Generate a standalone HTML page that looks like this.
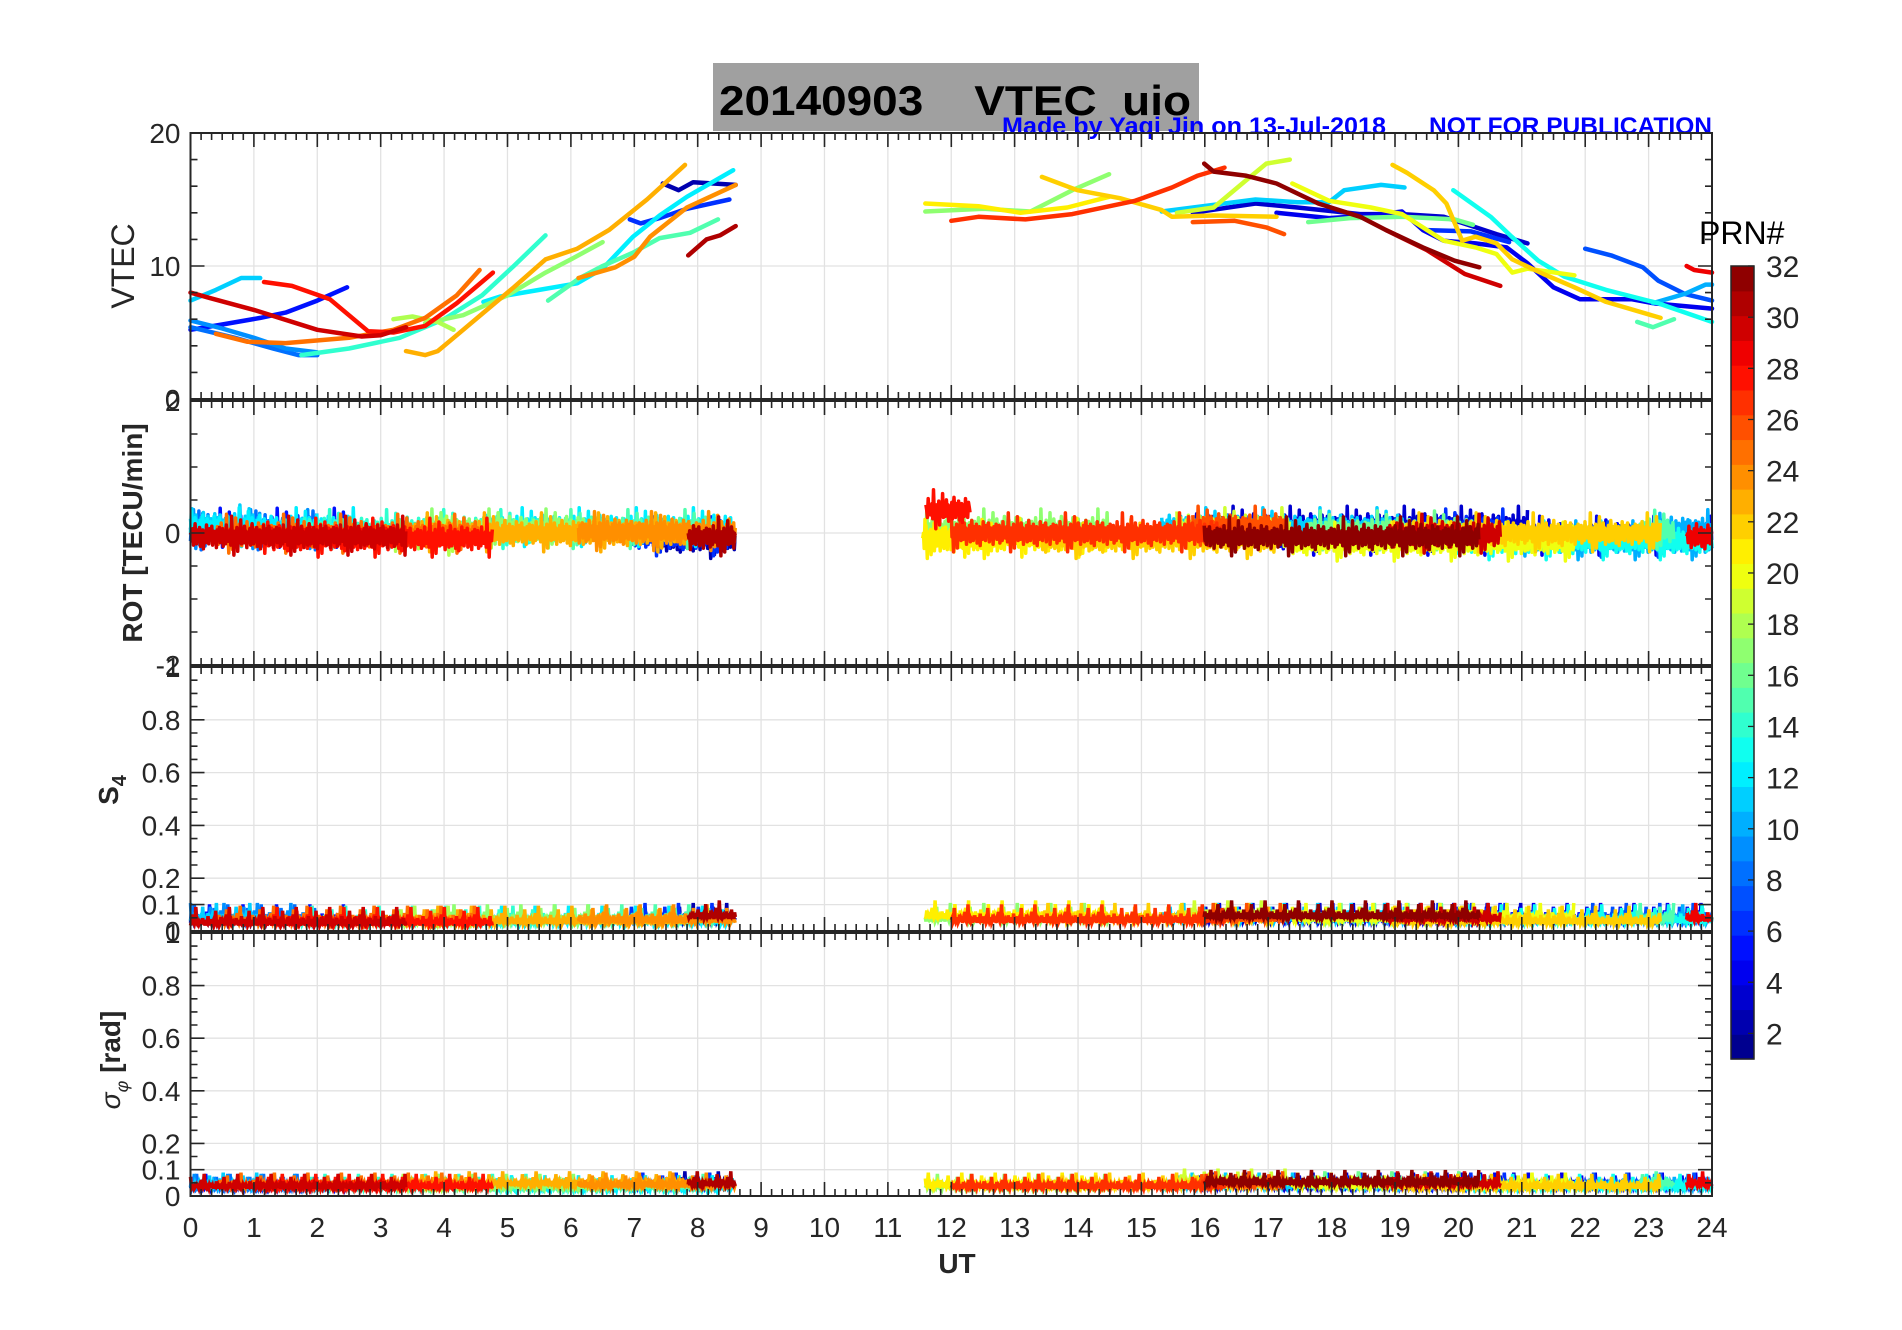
<!DOCTYPE html>
<html><head><meta charset="utf-8"><style>
html,body{margin:0;padding:0;background:#fff;}
svg{display:block;}
text{font-family:"Liberation Sans",Arial,sans-serif;}
</style></head><body>
<svg id="fig" width="1902" height="1330" viewBox="0 0 1902 1330" xmlns="http://www.w3.org/2000/svg">
<rect x="0" y="0" width="1902" height="1330" fill="#fff"/>
<rect x="713" y="63" width="486" height="68" fill="#a0a0a0"/>
<text x="719" y="115" font-size="42" font-weight="bold" fill="#000" textLength="472" lengthAdjust="spacingAndGlyphs" xml:space="preserve">20140903    VTEC  uio</text>
<text x="1002" y="134" font-size="24" font-weight="bold" fill="#0000ff" textLength="384" lengthAdjust="spacingAndGlyphs">Made by Yaqi Jin on 13-Jul-2018</text>
<text x="1429" y="134" font-size="24" font-weight="bold" fill="#0000ff" textLength="283" lengthAdjust="spacingAndGlyphs">NOT FOR PUBLICATION</text>
<g id="grids"></g>
<g id="series"></g>
<g id="axes"></g>
<text transform="translate(134,266) rotate(-90)" text-anchor="middle" font-size="32" fill="#262626">VTEC</text>
<text transform="translate(142,533) rotate(-90)" text-anchor="middle" font-size="28" font-weight="bold" fill="#262626">ROT [TECU/min]</text>
<text transform="translate(118,790) rotate(-90)" text-anchor="middle" font-size="28" font-weight="bold" fill="#262626">S<tspan font-size="20" dy="8">4</tspan></text>
<text transform="translate(120,1060) rotate(-90)" text-anchor="middle" font-size="28" font-weight="bold" fill="#262626"><tspan font-style="italic" font-weight="normal">σ</tspan><tspan font-size="18" font-style="italic" font-weight="normal" dy="8">φ</tspan><tspan dy="-8"> [rad]</tspan></text>
<text x="957" y="1273" text-anchor="middle" font-size="28" font-weight="bold" fill="#262626">UT</text>
<g id="cbar"></g>
<text x="1699" y="244" font-size="32" fill="#000">PRN#</text>
</svg>
<script>
const NS="http://www.w3.org/2000/svg";
const L=190.5,R=1712;
const panels=[[133,399],[401,665],[667,931],[933,1196]];
const hourTicks=[0,1,2,3,4,5,6,7,8,9,10,11,12,13,14,15,16,17,18,19,20,21,22,23,24];
const vtecTicks=[0,10,20];
const rotTicks=[-2,0,2];
const s4Ticks=[0,0.1,0.2,0.4,0.6,0.8,1];
const s4TickLabels=["0","0.1","0.2","0.4","0.6","0.8","1"];
const prnLabels=[2,4,6,8,10,12,14,16,18,20,22,24,26,28,30,32];
const arcs=[
{p:11,v:[[0,7.4],[0.4,8.2],[0.8,9.1],[1.1,9.1]],r:0.12,s:0.05,g:0.045},
{p:30,v:[[0,8],[0.3,7.6],[1,6.7],[2,5.2],[2.7,4.7],[3,4.8],[3.4,5.4]],r:-0.05,s:0.035,g:0.04},
{p:5,v:[[0,5.2],[0.5,5.6],[1.1,6.1],[1.5,6.5],[2,7.4],[2.47,8.4]],r:0.07,s:0.045,g:0.04},
{p:28,v:[[1.16,8.8],[1.6,8.5],[2.2,7.5],[2.8,5.1],[3.2,5.0],[3.7,5.5],[4.2,7.2],[4.77,9.5]],r:-0.08,s:0.035,g:0.04},
{p:25,v:[[0.4,4.9],[0.9,4.3],[1.5,4.2],[2.5,4.6],[3.2,5.2],[3.7,6.1],[4.2,7.8],[4.56,9.7]],r:-0.02,s:0.04,g:0.045},
{p:9,v:[[0,5.9],[0.5,5.3],[1,4.6],[1.5,3.8],[2,3.5]],r:0.05,s:0.05,g:0.04},
{p:8,v:[[0,5.4],[0.7,4.6],[1.3,3.8],[1.7,3.3],[2,3.3]],r:0.03,s:0.045,g:0.04},
{p:14,v:[[1.75,3.3],[2.5,3.8],[3.3,4.6],[4,6],[4.6,7.8],[5.1,10],[5.6,12.3]],r:0.05,s:0.04,g:0.04},
{p:18,v:[[3.2,6.0],[3.5,6.2],[3.9,5.8],[4.15,5.2]],r:-0.05,s:0.04,g:0.04},
{p:17,v:[[3.7,5.7],[4.3,6.3],[5,7.8],[5.6,9.5],[6.0,10.5],[6.5,11.8]],r:0.06,s:0.045,g:0.04},
{p:23,v:[[3.4,3.6],[3.7,3.3],[3.9,3.6],[4.2,4.8],[4.6,6.4],[5.1,8.4],[5.6,10.5],[6.1,11.3],[6.6,12.7],[7.2,15],[7.8,17.6]],r:0.0,s:0.04,g:0.05},
{p:24,v:[[6.12,9.1],[6.7,9.9],[7.0,10.7],[7.25,12.2],[7.83,14.4],[8.6,16.1]],r:0.02,s:0.045,g:0.045},
{p:12,v:[[4.62,7.3],[4.88,7.7],[5.5,8.2],[6.1,8.7],[6.5,9.8],[6.98,12.2],[7.4,13.8],[7.83,15.2],[8.56,17.2]],r:0.08,s:0.04,g:0.035},
{p:15,v:[[5.64,7.4],[6.14,9.1],[6.5,10.0],[6.98,11.0],[7.4,12.1],[7.88,12.5],[8.32,13.5]],r:0.05,s:0.045,g:0.04},
{p:6,v:[[6.93,13.5],[7.1,13.2],[7.4,13.6],[7.83,14.3],[8.5,15.0]],r:-0.06,s:0.05,g:0.045},
{p:2,v:[[7.45,16.2],[7.7,15.7],[7.93,16.3],[8.25,16.2],[8.6,16.1]],r:-0.1,s:0.05,g:0.05},
{p:31,v:[[7.85,10.8],[8.14,12.0],[8.35,12.3],[8.6,13.0]],r:-0.06,s:0.06,g:0.05},
{p:21,v:[[11.59,14.7],[12.43,14.5],[13.09,14.0],[13.83,14.4],[14.49,15.2]],r:-0.08,s:0.06,g:0.045},
{p:17,v:[[11.59,14.1],[12.51,14.3],[13.25,14.1],[13.91,15.7],[14.49,16.9]],r:0.06,s:0.05,g:0.04},
{p:27,v:[[12.0,13.4],[12.43,13.7],[13.17,13.5],[13.91,13.9],[14.9,14.9],[15.48,15.9],[15.89,16.8],[16.31,17.4]],r:0.0,s:0.045,g:0.04},
{p:22,v:[[13.43,16.7],[13.99,15.7],[14.66,15.1],[15.32,14.2],[15.48,13.7],[16.14,13.8],[17.13,13.7]],r:-0.1,s:0.05,g:0.045},
{p:26,v:[[15.81,13.3],[16.47,13.4],[16.97,12.9],[17.25,12.4]],r:0.1,s:0.05,g:0.05},
{p:19,v:[[15.56,14.0],[16.14,14.4],[16.64,16.4],[16.97,17.7],[17.34,18.0]],r:0.08,s:0.06,g:0.06},
{p:32,v:[[15.99,17.7],[16.14,17.1],[16.64,16.8],[17.13,16.2],[17.79,14.7],[18.45,13.7],[18.86,12.7],[19.44,11.4],[19.94,10.4],[20.33,9.9]],r:-0.06,s:0.06,g:0.055},
{p:30,v:[[18.86,12.7],[19.5,11.2],[20.1,9.4],[20.66,8.5]],r:-0.02,s:0.05,g:0.05},
{p:11,v:[[15.32,14.1],[16.14,14.6],[16.8,15.0],[17.46,14.8],[17.96,14.8],[18.2,15.7],[18.78,16.1],[19.15,15.9]],r:0.08,s:0.05,g:0.045},
{p:3,v:[[15.81,14.0],[16.8,14.7],[17.46,14.4],[18.45,13.9],[19.11,13.9],[19.77,13.7],[20.6,12.4],[21.09,11.7]],r:0.1,s:0.05,g:0.045},
{p:4,v:[[17.13,14.0],[17.96,13.6],[18.62,13.8],[19.11,14.1],[19.44,12.7],[19.77,11.9],[20.27,11.7],[20.76,11.4],[21.09,10.2],[21.5,8.4],[21.92,7.5],[22.74,7.5],[23.07,7.2],[24,6.8]],r:-0.05,s:0.05,g:0.045},
{p:16,v:[[17.63,13.3],[18.29,13.6],[19.11,13.7],[19.94,13.5],[20.23,13.1]],r:0.03,s:0.05,g:0.05},
{p:20,v:[[17.38,16.2],[17.96,14.9],[18.62,14.4],[19.11,13.9],[19.44,12.9],[19.77,11.9],[20.27,11.4],[20.6,10.9],[20.85,9.5],[21.09,9.8],[21.83,9.3]],r:-0.14,s:0.05,g:0.045},
{p:22,v:[[18.96,17.6],[19.19,17.0],[19.61,15.7],[19.81,14.7],[20.06,11.9],[20.27,12.2],[20.6,11.7],[20.85,10.5],[21.34,9.4],[21.83,8.4],[22.33,7.3],[23.19,6.1]],r:0.0,s:0.04,g:0.04},
{p:13,v:[[19.92,15.7],[20.51,13.7],[20.84,12.2],[21.26,10.4],[21.67,9.2],[22.33,8.2],[23.15,7.2],[24,5.8]],r:-0.12,s:0.045,g:0.04},
{p:7,v:[[22.0,11.3],[22.41,10.8],[22.91,9.9],[23.15,8.9],[23.57,7.9],[24,7.4]],r:-0.08,s:0.05,g:0.045},
{p:10,v:[[23.07,7.2],[23.57,7.9],[23.9,8.6],[24,8.6]],r:0.05,s:0.045,g:0.04},
{p:6,v:[[19.5,12.7],[20.2,12.6],[20.8,11.8]],r:0.06,s:0.05,g:0.045},
{p:15,v:[[22.82,5.8],[23.07,5.4],[23.4,6.0]],r:0.04,s:0.05,g:0.05},
{p:29,v:[[23.6,10.0],[23.72,9.7],[24,9.5]],r:-0.05,s:0.05,g:0.05}
];
const rotExtraPrn=[28,21,10,12];
const rotExtraStart=[11.6,11.55,21.0,0.0];
const rotExtraEnd=[12.3,12.8,24.0,2.6];
const rotExtraBase=[0.35,-0.1,-0.12,0.08];
const noise=[0.2,-0.5,0.8,-0.1,0.4,-0.9,0.3,0.1,-0.3,0.6,-0.7,0.2,1.0,-0.2,-0.6,0.5,0.0,-0.4,0.7,-0.8,0.3,-0.1,0.5,-1.0,0.4,0.2,-0.5,0.9,-0.3,0.1,-0.6,0.6,0.2,-0.2,0.8,-0.7,0.0,0.4,-0.4,0.3,-0.9,0.5,0.1,-0.3,0.7,-0.5,0.2,-0.1,0.6,-0.8,0.4,0.0,-0.6,0.9,-0.2,0.3,-0.4,0.1,0.5,-0.7,1.6,-0.3,0.2,-1.5,0.4,0.3,-0.2,0.7,-1.2,0.1,0.5,-0.4,1.3,-0.6,0.0];
const snoise=[0.1,0.3,0.0,0.5,0.2,0.8,0.1,0.4,0.0,0.6,0.3,0.2,1.0,0.1,0.4,0.0,0.7,0.2,0.3,0.5,0.0,0.2,1.6,0.4,0.1,0.3,0.6,0.0,0.2,0.9,0.1,0.5,0.3,0.0,0.4,0.2,1.2,0.3,0.1,0.5,2.0,0.2,0.1,0.4];

function x(h){return L+h*(R-L)/24;}
function yv(v){return panels[0][1]-v*(panels[0][1]-panels[0][0])/20;}
function yr(v){const p=panels[1];return p[1]-(v+2)*(p[1]-p[0])/4;}
function ys(v){const p=panels[2];return p[1]-v*(p[1]-p[0]);}
function yg(v){const p=panels[3];return p[1]-v*(p[1]-p[0]);}
function jet(p){
  const t=(p-0.5)/32;
  const c=v=>Math.round(255*Math.max(0,Math.min(1,v)));
  return `rgb(${c(1.5-Math.abs(4*t-3))},${c(1.5-Math.abs(4*t-2))},${c(1.5-Math.abs(4*t-1))})`;
}
function mk(tag,attrs,parent){const e=document.createElementNS(NS,tag);for(const k in attrs)e.setAttribute(k,attrs[k]);parent.appendChild(e);return e;}
const G=document.getElementById('grids'),S=document.getElementById('series'),A=document.getElementById('axes');

panels.forEach((p,i)=>{
  hourTicks.forEach(h=>{if(h>0&&h<24){const l=mk('line',{x1:x(h),x2:x(h),y1:p[0],y2:p[1],stroke:'#e2e2e2','stroke-width':1.3},G);
    
    }});
});
[[vtecTicks,yv],[rotTicks,yr],[s4Ticks,ys],[s4Ticks,yg]].forEach(([tk,f],i)=>{
  tk.forEach(v=>{const yy=f(v);if(yy>panels[i][0]+1&&yy<panels[i][1]-1){const l=mk('line',{x1:L,x2:R,y1:yy,y2:yy,stroke:'#e2e2e2','stroke-width':1.3},G);
    
    }});
});

const sorted=arcs.slice().sort((a,b)=>a.p-b.p);
const step=0.012;
function noisyPath(h0,h1,base,amp,arr,off,f){
  let d='';let i=0;
  for(let h=h0;h<=h1+1e-9;h+=step){const n=arr[(i+off)%arr.length];const val=base+amp*n;d+=(i?'L':'M')+x(h).toFixed(1)+' '+f(val).toFixed(1);i++;}
  return d;
}
const rotItems=sorted.map((a,k)=>({p:a.p,h0:a.v[0][0],h1:a.v[a.v.length-1][0],b:a.r,k}));
rotExtraPrn.forEach((p,k)=>rotItems.push({p,h0:rotExtraStart[k],h1:rotExtraEnd[k],b:rotExtraBase[k],k:k+50}));
rotItems.sort((a,b)=>a.p-b.p);
rotItems.forEach(it=>{
  const e=mk('path',{d:noisyPath(it.h0,it.h1,it.b,0.19,noise,it.k*7,yr),fill:'none',stroke:jet(it.p),'stroke-width':3.5,'stroke-linejoin':'round'},S);
  
  
});
sorted.forEach((a,k)=>{
  const h0=a.v[0][0],h1=a.v[a.v.length-1][0];
  const e1=mk('path',{d:noisyPath(h0,h1,a.s-0.014,0.035,snoise,k*5,ys),fill:'none',stroke:jet(a.p),'stroke-width':3.5},S);
  
  
  const e2=mk('path',{d:noisyPath(h0,h1,a.g-0.012,0.028,snoise,k*3+11,yg),fill:'none',stroke:jet(a.p),'stroke-width':3.5},S);
  
  
});
sorted.forEach(a=>{
  const d=a.v.map((pt,i)=>(i?'L':'M')+x(pt[0]).toFixed(1)+' '+yv(pt[1]).toFixed(1)).join('');
  const e=mk('path',{d,fill:'none',stroke:jet(a.p),'stroke-width':4.5,'stroke-linejoin':'round','stroke-linecap':'round'},S);
  
  
});

const axcol='#262626';
const yspecs=[
 {f:yv,min:0,max:20,minor:2,major:vtecTicks,labels:['0','10','20']},
 {f:yr,min:-2,max:2,minor:0.5,major:rotTicks,labels:['-2','0','2']},
 {f:ys,min:0,max:1,minor:0.05,major:s4Ticks,labels:s4TickLabels},
 {f:yg,min:0,max:1,minor:0.05,major:s4Ticks,labels:s4TickLabels}
];
panels.forEach((p,i)=>{
  const r=mk('rect',{x:L,y:p[0],width:R-L,height:p[1]-p[0],fill:'none',stroke:axcol,'stroke-width':2},A);
  
  
  let d='';
  for(let m=0;m<=144;m++){const h=m/6;const len=(m%6===0)?14:7;const xx=x(h).toFixed(1);
    d+=`M${xx} ${p[0]}v${len}M${xx} ${p[1]}v${-len}`;}
  const sp=yspecs[i];
  for(let v=sp.min;v<=sp.max+1e-9;v+=sp.minor){const yy=sp.f(v).toFixed(1);d+=`M${L} ${yy}h7M${R} ${yy}h-7`;}
  sp.major.forEach(v=>{const yy=sp.f(v).toFixed(1);d+=`M${L} ${yy}h14M${R} ${yy}h-14`;});
  const t=mk('path',{d,stroke:axcol,'stroke-width':1.6,fill:'none'},A);
  
  
  sp.major.forEach((v,j)=>{const tx=mk('text',{x:L-10,y:sp.f(v)+10,'text-anchor':'end','font-size':28,fill:axcol},A);tx.textContent=sp.labels[j];
    
    });
});
hourTicks.forEach(h=>{const t=mk('text',{x:x(h),y:1237,'text-anchor':'middle','font-size':28,fill:axcol},A);t.textContent=String(h);
  
  });

const CB=document.getElementById('cbar');const cx=1731,cw=23,ct=266,cbb=1059;
for(let p=1;p<=32;p++){const h=(cbb-ct)/32;const r=mk('rect',{x:cx,y:cbb-p*h,width:cw,height:h+0.6,fill:jet(p)},CB);
  
  }
mk('rect',{x:cx,y:ct,width:cw,height:cbb-ct,fill:'none',stroke:axcol,'stroke-width':1.5},CB);
prnLabels.forEach(p=>{const yy=cbb-(p-1)*(cbb-ct)/31;
  mk('line',{x1:cx+cw-6,x2:cx+cw,y1:yy,y2:yy,stroke:axcol,'stroke-width':1.3},CB);
  const t=mk('text',{x:1766,y:yy+11,'font-size':30,fill:axcol},CB);t.textContent=String(p);
  
  });
</script>
</body></html>
